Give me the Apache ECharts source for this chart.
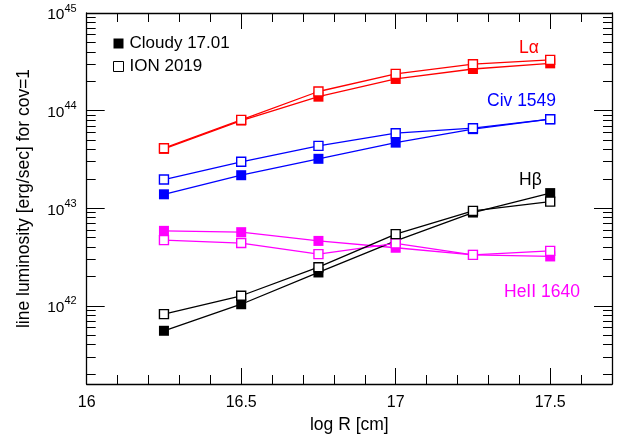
<!DOCTYPE html>
<html><head><meta charset="utf-8">
<script src="https://cdn.jsdelivr.net/npm/echarts@6/dist/echarts.min.js"></script>
<style>html,body{margin:0;padding:0;background:#fff}#c{width:618px;height:440px}</style>
</head><body><div id="c"></div>
<script>
// log R [cm]
const logR = [16.25, 16.5, 16.75, 17, 17.25, 17.5];
// line luminosity [erg/s] for cov=1
const lyaCloudy  = [4.06e43, 7.91e43, 1.39e44, 2.11e44, 2.67e44, 3.05e44];
const lyaIon     = [4.12e43, 8.04e43, 1.57e44, 2.38e44, 2.99e44, 3.31e44];
const civCloudy  = [1.39e43, 2.18e43, 3.21e43, 4.70e43, 6.46e43, 8.17e43];
const civIon     = [1.97e43, 2.99e43, 4.36e43, 5.87e43, 6.61e43, 8.17e43];
const hbCloudy   = [5.56e41, 1.04e42, 2.20e42, 4.63e42, 9.04e42, 1.43e43];
const hbIon      = [8.24e41, 1.27e42, 2.49e42, 5.43e42, 9.40e42, 1.17e43];
const heiiCloudy = [5.87e42, 5.69e42, 4.63e42, 3.94e42, 3.33e42, 3.21e42];
const heiiIon    = [4.72e42, 4.40e42, 3.39e42, 4.37e42, 3.33e42, 3.66e42];
const xTickLabels = [16, 16.5, 17, 17.5];
const yDecades = [42, 43, 44, 45];

const FONT = '"Liberation Sans", Arial, sans-serif';
const X_MIN = 16, X_MAX = 17.7, Y_MIN = 41.2, Y_MAX = 45;
const xMinor = [];
for (let i = 0; i <= 17; i++) xMinor.push(+(16 + i * 0.1).toFixed(1));
const yMinor = [];
for (let n = 41; n <= 44; n++) for (let k = 2; k <= 9; k++) {
  const v = n + Math.log10(k);
  if (v > Y_MIN && v < Y_MAX) yMinor.push(v);
}

const chart = echarts.init(document.getElementById('c'), null, {renderer: 'canvas'});

function xAx(pos, ticks, len, showLine, showLabel) {
  return {
    type: 'value', position: pos, min: X_MIN, max: X_MAX,
    axisLine: {show: showLine, onZero: false, lineStyle: {color: '#000', width: 1.3}},
    axisTick: {show: true, inside: true, length: len, customValues: ticks, lineStyle: {color: '#000', width: 1}},
    axisLabel: showLabel ? {show: true, customValues: xTickLabels, fontSize: 16, color: '#000', fontFamily: FONT, margin: 11} : {show: false},
    splitLine: {show: false}
  };
}
function yAx(pos, ticks, len, showLine, showLabel) {
  return {
    type: 'value', position: pos, min: Y_MIN, max: Y_MAX,
    axisLine: {show: showLine, onZero: false, lineStyle: {color: '#000', width: 1.3}},
    axisTick: {show: true, inside: true, length: len, customValues: ticks, lineStyle: {color: '#000', width: 1}},
    axisLabel: showLabel ? {
      show: true, customValues: yDecades, margin: 10, color: '#000', fontFamily: FONT,
      formatter: v => '{b|10}{s|' + Math.round(v) + '}',
      rich: {
        b: {fontSize: 15.5, fontFamily: FONT, color: '#000', verticalAlign: 'bottom', padding: [3, 0, 0, 0]},
        s: {fontSize: 11, fontFamily: FONT, color: '#000', verticalAlign: 'bottom', padding: [0, 0, 9, 0]}
      }
    } : {show: false},
    splitLine: {show: false}
  };
}

const xAxes = [xAx('bottom', xTickLabels, 16, true, true), xAx('bottom', xMinor, 9, false, false),
               xAx('top', xTickLabels, 16, true, false), xAx('top', xMinor, 9, false, false)];
xAxes[0].name = 'log R [cm]';
xAxes[0].nameLocation = 'middle';
xAxes[0].nameGap = 28;
xAxes[0].nameTextStyle = {fontSize: 17.5, color: '#000', fontFamily: FONT};

const yAxes = [yAx('left', yDecades, 18, true, true), yAx('left', yMinor, 9, false, false),
               yAx('right', yDecades, 18, true, false), yAx('right', yMinor, 9, false, false)];
yAxes[0].name = 'line luminosity [erg/sec] for cov=1';
yAxes[0].nameLocation = 'middle';
yAxes[0].nameGap = 54;
yAxes[0].nameTextStyle = {fontSize: 17.5, color: '#000', fontFamily: FONT};

function mk(name, vals, color, filled) {
  return {
    type: 'line', name: name, xAxisIndex: 0, yAxisIndex: 0,
    data: logR.map((x, i) => [x, Math.log10(vals[i])]),
    symbol: 'rect', symbolSize: filled ? 10 : 9, showSymbol: true,
    itemStyle: filled ? {color: color} : {color: '#fff', borderColor: color, borderWidth: 1.4},
    lineStyle: {color: color, width: 1.3},
    z: filled ? 3 : 4,
    animation: false
  };
}
const C = 'Cloudy 17.01', I = 'ION 2019';
const series = [
  mk(C, lyaCloudy, '#ff0000', true), mk(I, lyaIon, '#ff0000', false),
  mk(C, civCloudy, '#0000ff', true), mk(I, civIon, '#0000ff', false),
  mk(C, heiiCloudy, '#ff00ff', true), mk(I, heiiIon, '#ff00ff', false),
  mk(C, hbCloudy, '#000000', true), mk(I, hbIon, '#000000', false)
];

function lab(text, x, y, color) {
  return {type: 'text', x: x, y: y, style: {text: text, fill: color, fontSize: 17.5, fontFamily: FONT, textVerticalAlign: 'middle'}};
}

chart.setOption({
  backgroundColor: '#fff',
  animation: false,
  grid: {left: 86.7, right: 6, top: 13, bottom: 56, containLabel: false},
  xAxis: xAxes,
  yAxis: yAxes,
  legend: {
    orient: 'vertical', left: 113, top: 35, padding: 0, itemWidth: 10, itemHeight: 10, itemGap: 6,
    icon: 'rect', textStyle: {fontSize: 17, color: '#000', fontFamily: FONT, padding: [0, 0, 0, 1]},
    data: [
      {name: C, icon: 'rect', itemStyle: {color: '#000'}},
      {name: I, icon: 'rect', itemStyle: {color: '#fff', borderColor: '#000', borderWidth: 1}}
    ]
  },
  graphic: [
    lab('Lα', 519, 48, '#ff0000'),
    lab('Civ 1549', 487, 101, '#0000ff'),
    lab('Hβ', 519, 180, '#000000'),
    lab('HeII 1640', 504, 292, '#ff00ff')
  ],
  series: series
});
</script></body></html>
